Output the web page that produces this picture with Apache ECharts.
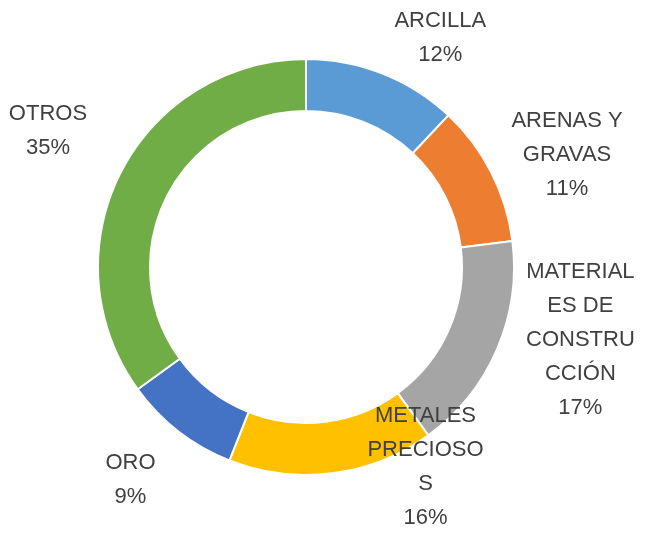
<!DOCTYPE html>
<html>
<head>
<meta charset="utf-8">
<script src="https://cdn.jsdelivr.net/npm/echarts@6/dist/echarts.min.js"></script>
<style>
  html, body { margin: 0; padding: 0; background: #fff; }
  #pie { width: 648px; height: 533px; }
</style>
</head>
<body>
<div id="pie"></div>
<script>
// datos del gráfico
var categorias = ["ARCILLA", "ARENAS Y GRAVAS", "MATERIALES DE CONSTRUCCIÓN", "METALES PRECIOSOS", "ORO", "OTROS"];
var porcentajes = [12, 11, 17, 16, 9, 35];
// texto de etiqueta tal como sale cortado en el original
var etiquetas = ["ARCILLA", "ARENAS Y\nGRAVAS", "MATERIAL\nES DE\nCONSTRU\nCCIÓN", "METALES\nPRECIOSO\nS", "ORO", "OTROS"];
var colores = ["#5B9BD5", "#ED7D31", "#A5A5A5", "#FFC000", "#4472C4", "#70AD47"];

var cx = 306, cy = 267;
var labelR = 275;
// ajuste fino de cada etiqueta respecto a su posición radial
var ajustes = [[33, 27], [16, 13], [22, -36], [85, -73], [-7, -4], [-13, -11]];

var total = porcentajes.reduce(function (a, b) { return a + b; }, 0);
var acum = [];
var s = 0;
for (var i = 0; i < porcentajes.length; i++) {
  acum.push(s + porcentajes[i] / 2);
  s += porcentajes[i];
}

var myChart = echarts.init(document.getElementById("pie"));
var option = {
  animation: false,
  series: [
    {
      type: "pie",
      center: [cx, cy],
      radius: [156, 208],
      startAngle: 90,
      clockwise: true,
      data: categorias.map(function (c, i) {
        return { name: c, value: porcentajes[i], itemStyle: { color: colores[i] } };
      }),
      itemStyle: { borderColor: "#fff", borderWidth: 2 },
      label: {
        show: true,
        position: "outside",
        formatter: function (p) {
          return etiquetas[p.dataIndex] + "\n" + p.value + "%";
        },
        fontFamily: "'Liberation Sans', sans-serif",
        fontSize: 22,
        lineHeight: 34,
        color: "#404040",
        align: "center",
        overflow: "none",
        width: 200
      },
      labelLine: { show: false },
      labelLayout: function (params) {
        var i = params.dataIndex;
        var a = acum[i] / total * 2 * Math.PI;
        return {
          x: cx + labelR * Math.sin(a) + ajustes[i][0],
          y: cy - labelR * Math.cos(a) + ajustes[i][1],
          align: "center",
          verticalAlign: "middle"
        };
      }
    }
  ]
};
myChart.setOption(option);
window.addEventListener("resize", function () {
  myChart.resize();
});
</script>
</body>
</html>
